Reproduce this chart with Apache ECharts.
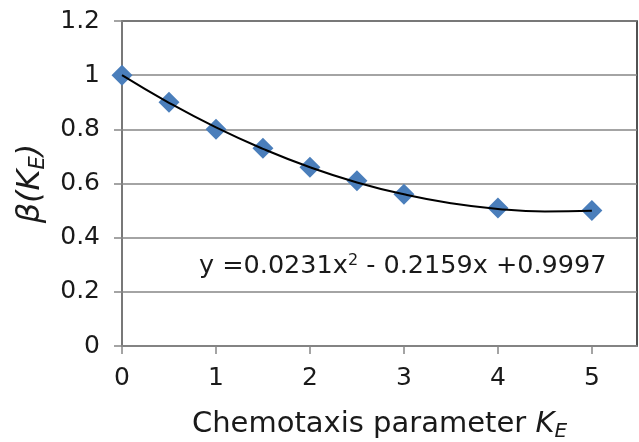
<!DOCTYPE html>
<html>
<head>
<meta charset="utf-8">
<script src="https://cdn.jsdelivr.net/npm/echarts@6/dist/echarts.min.js"></script>
<style>
  html, body { margin: 0; padding: 0; background: #fff; }
  #chart { width: 639px; height: 442px; }
</style>
</head>
<body>
<div id="chart"></div>
<script>
// measured points
var kE = [0, 0.5, 1, 1.5, 2, 2.5, 3, 4, 5];
var beta = [1.0, 0.9, 0.8, 0.73, 0.66, 0.61, 0.56, 0.51, 0.50];

// trend line
var trendX = [0, 0.5, 1, 1.5, 2, 2.5, 3, 3.5, 4, 4.5, 5];
var trendY = [1.0, 0.898, 0.807, 0.728, 0.66, 0.604, 0.56, 0.527, 0.506, 0.497, 0.499];

var equation = 'y =0.0231x{sup|2} - 0.2159x +0.9997';

var font = 'DejaVu Sans';

var dom = document.getElementById('chart');
var myChart = echarts.init(dom);

var points = kE.map(function (x, i) { return [x, beta[i]]; });
var trend = trendX.map(function (x, i) { return [x, trendY[i]]; });

var option = {
    animation: false,
    grid: {
        left: 122, right: 2, top: 21, bottom: 96,
        outerBoundsMode: 'none',
        containLabel: false,
        show: true,
        borderColor: '#1a1a1a',
        borderWidth: 1.5
    },
    xAxis: {
        type: 'value',
        min: 0, max: 5.48, interval: 1,
        name: '{n|Chemotaxis parameter }{i|K}{s|E}',
        nameLocation: 'middle',
        nameGap: 60,
        nameTextStyle: {
            rich: {
                n: { fontFamily: font, fontSize: 29, color: '#1a1a1a' },
                i: { fontFamily: font, fontSize: 29, fontStyle: 'italic', color: '#1a1a1a' },
                s: { fontFamily: font, fontSize: 20, fontStyle: 'italic', color: '#1a1a1a', padding: [16, 0, 0, 0] }
            }
        },
        axisLine: { lineStyle: { color: '#868686', width: 1.5 } },
        axisTick: { show: true, length: 8, lineStyle: { color: '#868686', width: 1.5 } },
        axisLabel: { fontFamily: font, fontSize: 25, color: '#1a1a1a', margin: 20, showMaxLabel: false },
        splitLine: { show: false }
    },
    yAxis: {
        type: 'value',
        min: 0, max: 1.2, interval: 0.2,
        name: '{i|\u03b2(K}{s|E}{i|)}',
        nameLocation: 'middle',
        nameGap: 71,
        nameRotate: 90,
        nameTextStyle: {
            rich: {
                i: { fontFamily: font, fontSize: 32, fontStyle: 'italic', color: '#1a1a1a' },
                s: { fontFamily: font, fontSize: 21, fontStyle: 'italic', color: '#1a1a1a', padding: [17, 0, 0, 0] }
            }
        },
        axisLine: { show: true, lineStyle: { color: '#868686', width: 1.5 } },
        axisTick: { show: true, length: 8, lineStyle: { color: '#868686', width: 1.5 } },
        axisLabel: {
            fontFamily: font, fontSize: 25, color: '#1a1a1a', margin: 22,
            formatter: function (v) { return String(+v.toFixed(1)); }
        },
        splitLine: { lineStyle: { color: '#868686', width: 1.5 } }
    },
    graphic: [{
        type: 'text',
        left: 199, top: 253,
        style: {
            text: equation,
            fontFamily: font, fontSize: 25.5, fill: '#1a1a1a',
            rich: {
                sup: { fontFamily: font, fontSize: 16, fill: '#1a1a1a', padding: [0, 0, 11, 0] }
            }
        }
    }],
    series: [
        {
            name: 'beta',
            type: 'scatter',
            data: points,
            symbol: 'diamond',
            symbolSize: [21, 21],
            itemStyle: { color: '#4a7ebb', opacity: 1 },
            z: 2
        },
        {
            name: 'trend',
            type: 'line',
            data: trend,
            smooth: true,
            showSymbol: false,
            lineStyle: { color: '#000', width: 2 },
            z: 3
        }
    ]
};

if (option && typeof option === 'object') {
    myChart.setOption(option, true);
}
</script>
</body>
</html>
